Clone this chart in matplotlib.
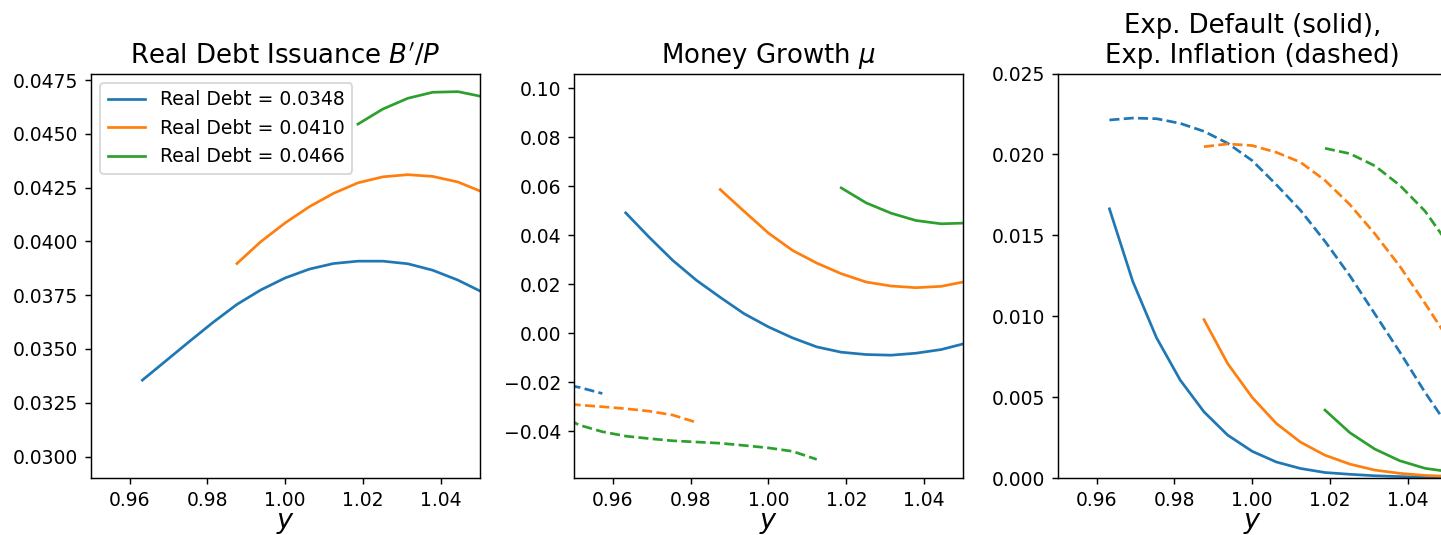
import numpy as np
import matplotlib
matplotlib.use("Agg")
import matplotlib.pyplot as plt

nan = np.nan

# output grid (log-spaced around 1)
y_grid = [0.9455, 0.9514, 0.9573, 0.9633, 0.9693, 0.9754, 0.9815, 0.9876, 0.9937,
          1.0000, 1.0062, 1.0124, 1.0187, 1.0251, 1.0315, 1.0379, 1.0444, 1.0509]

debt_levels = [0.0348, 0.0410, 0.0466]
colors = ["#1f77b4", "#ff7f0e", "#2ca02c"]

# real debt issuance B'/P
issuance = [
    [nan, nan, nan, 0.03355, 0.03444, 0.03535, 0.03624, 0.03707, 0.03774, 0.03830,
     0.03871, 0.03897, 0.03908, 0.03908, 0.03896, 0.03866, 0.03820, 0.03762],
    [nan, nan, nan, nan, nan, nan, nan, 0.03897, 0.03998, 0.04086,
     0.04161, 0.04223, 0.04272, 0.04300, 0.04310, 0.04302, 0.04276, 0.04228],
    [nan, nan, nan, nan, nan, nan, nan, nan, nan, nan,
     nan, nan, 0.04545, 0.04615, 0.04665, 0.04693, 0.04696, 0.04672],
]

# money growth, repayment region (solid) and default region (dashed)
mu_repay = [
    [nan, nan, nan, 0.04915, 0.03924, 0.02973, 0.02159, 0.01466, 0.00801, 0.00258,
     -0.0019, -0.00557, -0.00774, -0.00869, -0.00896, -0.00815, -0.00665, -0.0040],
    [nan, nan, nan, nan, nan, nan, nan, 0.05865, 0.04982, 0.04087,
     0.0338, 0.02865, 0.0243, 0.02091, 0.01928, 0.0186, 0.01914, 0.0212],
    [nan, nan, nan, nan, nan, nan, nan, nan, nan, nan,
     nan, nan, 0.05933, 0.05322, 0.04901, 0.04602, 0.04467, 0.0450],
]
mu_default = [
    [-0.0203, -0.0221, -0.0246, nan, nan, nan, nan, nan, nan, nan,
     nan, nan, nan, nan, nan, nan, nan, nan],
    [-0.0284, -0.0293, -0.0300, -0.0308, -0.0318, -0.0334, -0.0364, nan, nan, nan,
     nan, nan, nan, nan, nan, nan, nan, nan],
    [-0.0328, -0.0375, -0.0402, -0.0420, -0.0430, -0.0439, -0.0444, -0.0449, -0.0458, -0.0468,
     -0.0482, -0.0515, nan, nan, nan, nan, nan, nan],
]

# expected default probability and expected inflation
exp_default = [
    [nan, nan, nan, 0.01664, 0.01215, 0.00867, 0.00605, 0.00409, 0.00265, 0.00165,
     0.00099, 0.00059, 0.00034, 0.00023, 0.00014, 0.00009, 0.00005, 0.00003],
    [nan, nan, nan, nan, nan, nan, nan, 0.00979, 0.00707, 0.00498,
     0.00337, 0.00222, 0.00141, 0.00086, 0.00049, 0.00029, 0.00016, 0.0001],
    [nan, nan, nan, nan, nan, nan, nan, nan, nan, nan,
     nan, nan, 0.0042, 0.0028, 0.00179, 0.00107, 0.0006, 0.00038],
]
exp_inflation = [
    [nan, nan, nan, 0.02213, 0.02225, 0.02221, 0.02192, 0.02143, 0.02069, 0.01962,
     0.01813, 0.01655, 0.01463, 0.01250, 0.01015, 0.0078, 0.0053, 0.0030],
    [nan, nan, nan, nan, nan, nan, nan, 0.02048, 0.02065, 0.02055,
     0.02013, 0.01952, 0.0184, 0.0169, 0.0151, 0.0131, 0.0108, 0.0084],
    [nan, nan, nan, nan, nan, nan, nan, nan, nan, nan,
     nan, nan, 0.02038, 0.02005, 0.0193, 0.0181, 0.0165, 0.0143],
]

fig = plt.figure(figsize=(1441 / 130, 535 / 130), dpi=130)
ax_w, ax_h, ax_b = 0.270, 0.756, 0.1065
ax1 = fig.add_axes([0.0629, ax_b, ax_w, ax_h])
ax2 = fig.add_axes([0.3983, ax_b, ax_w, ax_h])
ax3 = fig.add_axes([0.7340, ax_b, ax_w, ax_h])

x = np.array(y_grid)
for k in range(3):
    ax1.plot(x, issuance[k], color=colors[k], label=f"Real Debt = {debt_levels[k]:.4f}")
    ax2.plot(x, mu_repay[k], color=colors[k])
    ax2.plot(x, mu_default[k], color=colors[k], linestyle="--")
    ax3.plot(x, exp_default[k], color=colors[k])
    ax3.plot(x, exp_inflation[k], color=colors[k], linestyle="--")

title_size = 14.4
label_size = 10.4

ax1.set_title("Real Debt Issuance $B'/P$", fontsize=title_size)
ax1.set_ylim(0.0290, 0.0478)
ax1.set_yticks([0.0300, 0.0325, 0.0350, 0.0375, 0.0400, 0.0425, 0.0450, 0.0475])
ax1.legend(loc="upper left", fontsize=label_size)

ax2.set_title("Money Growth $\\mu$", fontsize=title_size)
ax2.set_ylim(-0.0591, 0.1060)
ax2.set_yticks([-0.04, -0.02, 0.0, 0.02, 0.04, 0.06, 0.08, 0.10])

ax3.set_title("Exp. Default (solid),\nExp. Inflation (dashed)", fontsize=title_size)
ax3.set_ylim(0.0, 0.025)
ax3.set_yticks([0.0, 0.005, 0.010, 0.015, 0.020, 0.025])

for ax in (ax1, ax2, ax3):
    ax.set_xlim(0.95, 1.05)
    ax.set_xticks([0.96, 0.98, 1.00, 1.02, 1.04])
    ax.tick_params(labelsize=label_size)
    ax.set_xlabel("$y$", fontsize=15, labelpad=0)

fig.savefig("out.png", dpi=130)
